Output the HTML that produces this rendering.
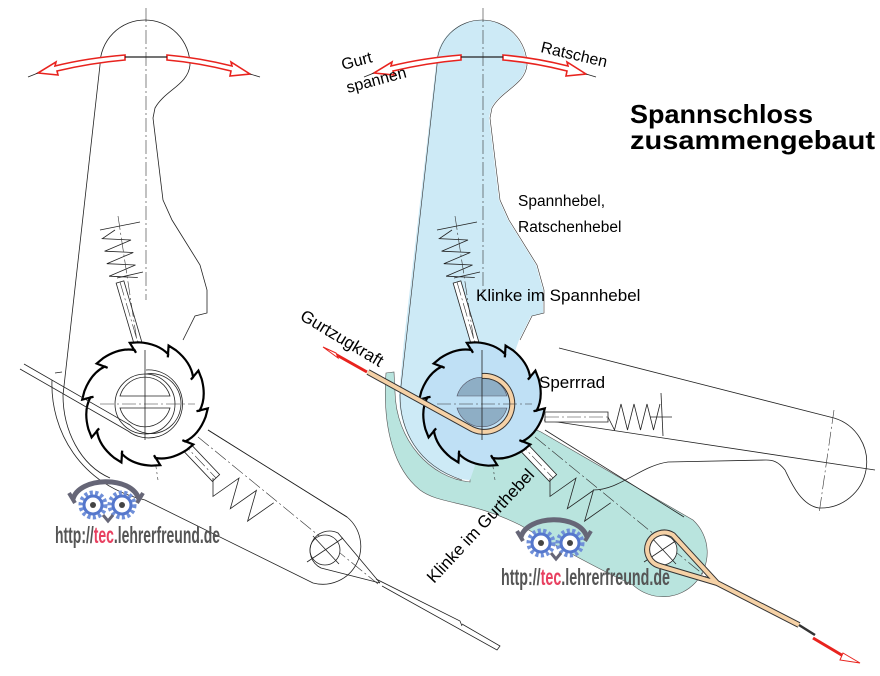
<!DOCTYPE html>
<html><head><meta charset="utf-8">
<style>
html,body{margin:0;padding:0;background:#fff;}
svg{display:block;}
text{font-family:"Liberation Sans",Arial,sans-serif;fill:#000;}
.t{stroke:#222;stroke-width:0.8;fill:none;}
.cl{stroke:#333;stroke-width:0.6;fill:none;stroke-dasharray:14 3 2 3;}
.wm{font-family:"Liberation Sans Narrow","Liberation Sans",sans-serif;font-weight:bold;fill:#555;}
</style></head>
<body>
<svg id="s" width="880" height="676" viewBox="0 0 880 676" xmlns="http://www.w3.org/2000/svg">
<defs>
<g id="gear"><circle r="12" fill="none" stroke="#6f8fd8" stroke-width="5" stroke-dasharray="3 2.3"/><circle r="9" fill="#fff" stroke="#5577cc" stroke-width="3"/><circle r="3" fill="#444"/></g>
<g id="owl">
<path d="M-20,-6 C-14,-28 38,-30 46,-6" fill="none" stroke="#667" stroke-width="5"/>
<path d="M-24,-12 L-18,-2 M50,-12 L44,-2" stroke="#667" stroke-width="4"/>
<use href="#gear" x="0" y="0"/><use href="#gear" x="29" y="0"/>
<path d="M10,10 L15,16 L20,10" fill="none" stroke="#667" stroke-width="3"/>
</g>
</defs>

<path d="M386,373 L394,372 L395,392 C396,440 430,478 470,482 L470,400 L541,432 L693,520 A38,38 0 0 1 633,585 C600,570 560,548 520,525 C470,500 440,505 420,490 C395,470 382,430 386,373 Z" fill="#b9e4de" stroke="#555" stroke-width="0.6"/>
<path d="M436,65 A45,45 0 1 1 526,65 C524,85 501,90 491,108 L489,118 L499,200 L508,220 L536,265 L543,290 L543,313 L531,316 L519,340 L505,380 L470,480 C430,478 399,440 399,395 L404,340 Z" fill="#cdeaf6"/>
<path d="M559,348 L834,418 A46,46 0 0 1 819,508 C800,505 790,480 785,470 C778,461 772,460 766,460 L668,462 C640,466 620,490 593,490" class="t"/>
<line x1="544" y1="420" x2="875" y2="470" class="t"/>
<line x1="834" y1="410" x2="819" y2="514" class="cl"/>

<g id="draw"></g>

<g fill="#fff" stroke="#e8231e" stroke-width="1.6">
<path d="M125,55 C100,57 75,61 55,66 L56,62 L38,73 L58,75 L57,71 C78,66 102,62 125,60 Z"/>
<path d="M167,55 C190,57 212,61 232,66 L231,62 L250,74 L230,76 L231,71 C211,66 190,62 167,60 Z"/>
<path d="M461,55 C436,57 411,61 391,66 L392,62 L374,73 L394,75 L393,71 C414,66 438,62 461,60 Z"/>
<path d="M503,55 C526,57 548,61 568,66 L567,62 L586,74 L566,76 L567,71 C547,66 526,62 503,60 Z"/>
</g>
<g class="t"><line x1="125" y1="57" x2="167" y2="57" stroke-width="1.2"/><line x1="461" y1="57" x2="503" y2="57" stroke-width="1.2"/>
<line x1="38" y1="73" x2="28" y2="77"/><line x1="250" y1="74" x2="260" y2="77"/><line x1="374" y1="73" x2="364" y2="77"/><line x1="586" y1="74" x2="596" y2="77"/></g>

<line x1="367" y1="372" x2="335" y2="354" stroke="#e8231e" stroke-width="3"/>
<path d="M336,353 L323,347 L338,358 Z" fill="#fff" stroke="#e8231e" stroke-width="1"/>
<line x1="813" y1="638" x2="845" y2="657" stroke="#e8231e" stroke-width="3"/>
<path d="M843,653 L860,663 L840,660 Z" fill="#fff" stroke="#e8231e" stroke-width="1"/>

<text x="630" y="123" font-size="26" font-weight="bold" textLength="183" lengthAdjust="spacingAndGlyphs">Spannschloss</text>
<text x="630" y="149" font-size="26" font-weight="bold" textLength="245" lengthAdjust="spacingAndGlyphs">zusammengebaut</text>
<text transform="translate(343,70) rotate(-15)" font-size="16">Gurt</text>
<text transform="translate(348,93) rotate(-15)" font-size="16">spannen</text>
<text transform="translate(540,52) rotate(13)" font-size="16">Ratschen</text>
<text x="518" y="206" font-size="15.5">Spannhebel,</text>
<text x="518" y="232" font-size="15.5">Ratschenhebel</text>
<text x="476" y="301" font-size="17">Klinke im Spannhebel</text>
<text transform="translate(299,319) rotate(31)" font-size="17">Gurtzugkraft</text>
<text x="539" y="388" font-size="17">Sperrrad</text>
<text transform="translate(434,584) rotate(-47)" font-size="17">Klinke im Gurthebel</text>

<use href="#owl" x="93" y="505"/>
<text class="wm" x="55" y="543" font-size="23" textLength="165" lengthAdjust="spacingAndGlyphs">http://<tspan fill="#e84060">tec</tspan>.lehrerfreund.de</text>
<use href="#owl" x="541" y="543"/>
<text class="wm" x="501" y="585" font-size="23" textLength="169" lengthAdjust="spacingAndGlyphs">http://<tspan fill="#e84060">tec</tspan>.lehrerfreund.de</text>
</svg>
<script>
(function(){
var NS="http://www.w3.org/2000/svg",root=document.getElementById("draw");
function el(n,a,p){var e=document.createElementNS(NS,n);for(var k in a)e.setAttribute(k,a[k]);(p||root).appendChild(e);return e;}
function zig(x1,y1,x2,y2,n,w){var dx=x2-x1,dy=y2-y1,L=Math.hypot(dx,dy),ux=dx/L,uy=dy/L,nx=-uy,ny=ux,d="M"+x1+","+y1;
 for(var i=1;i<=n*2;i++){var t=i/(n*2),s=(i%2?1:-1)*w;d+=" L"+(x1+dx*t+nx*s).toFixed(1)+","+(y1+dy*t+ny*s).toFixed(1);}return d;}
function P(cx,cy,r,deg){var a=deg*Math.PI/180;return (cx+r*Math.cos(a)).toFixed(1)+","+(cy+r*Math.sin(a)).toFixed(1);}
function ratchet(cx,cy,fill){var d="",N=10,ro=63,ri=52;
 for(var i=0;i<N;i++){var a=i*36+8;
  d+=(i?" L":"M")+P(cx,cy,ri,a)+" L"+P(cx,cy,ro,a-4)+" L"+P(cx,cy,ro-1,a+4)+" Q"+P(cx,cy,ro-1,a+22)+" "+P(cx,cy,ri+3,a+35);}
 el("path",{d:d+"Z",fill:fill,stroke:"#000","stroke-width":2.2,"stroke-linejoin":"miter"});}
function rails(x1,y1,x2,y2,w,fill){var dx=x2-x1,dy=y2-y1,L=Math.hypot(dx,dy),nx=-dy/L*w,ny=dx/L*w;
 el("path",{d:"M"+(x1+nx)+","+(y1+ny)+" L"+(x2+nx)+","+(y2+ny)+" L"+(x2-nx)+","+(y2-ny)+" L"+(x1-nx)+","+(y1-ny)+"Z",fill:fill,stroke:"#222","stroke-width":0.8});
 el("line",{x1:x1,y1:y1,x2:x2,y2:y2,"class":"cl"});}
function mech(o,col){
 var g=el("g",{transform:"translate("+o+",0)"});
 var cx=145,cy=404;
 el("line",{x1:146,y1:8,x2:146,y2:300,"class":"cl"},g);
 if(!col){
  el("path",{d:"M100,65 A45,45 0 1 1 190,65 C188,85 165,90 155,108 L153,118 L163,200 L172,220 L200,265 L207,290 L207,313 L195,316 L183,340",fill:"none",stroke:"#222","stroke-width":0.8},g);
  el("path",{d:"M100,65 L63,395 C63,430 80,465 110,478",fill:"none",stroke:"#222","stroke-width":0.8},g);
  el("path",{d:"M55,373 L62,372 M52,380 C50,430 80,485 145,500 L313,583 A38,38 0 0 0 347,517 L208,430",fill:"none",stroke:"#222","stroke-width":0.8},g);
 } else {
  el("path",{d:"M100,65 A45,45 0 1 1 190,65 C188,85 165,90 155,108 L153,118 L163,200 L172,220 L200,265 L207,290 L207,313 L195,316 L183,340 M100,65 L63,395 C63,430 80,465 125,480",fill:"none",stroke:"#333","stroke-width":0.6},g);
 }
 root=g;
 rails(120,282,140,350,4,"#fff");
 el("path",{d:zig(115,230,124,280,4,14),fill:"none",stroke:"#222","stroke-width":0.8});
 el("line",{x1:100,y1:230,x2:140,y2:222,"class":"t"});el("line",{x1:117,y1:278,x2:143,y2:272,"class":"t"});
 el("line",{x1:118,y1:216,x2:158,y2:480,"class":"cl"});
 rails(180,440,216,478,5,"#fff");
 el("path",{d:zig(213,478,265,515,3,15),fill:"none",stroke:"#222","stroke-width":0.8});
 el("line",{x1:198,y1:437,x2:378,y2:584,"class":"cl"});
 el("line",{x1:208,y1:430,x2:347,y2:517,"class":"t"});
 ratchet(cx,cy,col?"#bfe0f5":"#fff");
 if(col){
  el("path",{d:"M120,396 A26,26 0 0 1 170,396 Z M120,408 A26,26 0 0 0 170,408 Z",fill:"#8eaec5",stroke:"#556","stroke-width":0.6});
  el("path",{d:"M31,372 L133,428 A28,28 0 1 0 145,376",fill:"none",stroke:"#333","stroke-width":6});
  el("path",{d:"M31,372 L133,428 A28,28 0 1 0 145,376",fill:"none",stroke:"#f5d1a6","stroke-width":4});
 } else {
  el("circle",{cx:cx,cy:cy,r:30,fill:"none",stroke:"#222","stroke-width":0.8});
  el("path",{d:"M120,396 A26,26 0 0 1 170,396 Z M120,408 A26,26 0 0 0 170,408 Z",fill:"none",stroke:"#222","stroke-width":0.8});
  el("path",{d:"M24,364 L130,425 A30,30 0 1 0 146,374 M20,369 L128,431 A34,34 0 1 0 146,370",fill:"none",stroke:"#222","stroke-width":0.8});
 }
 el("line",{x1:100,y1:404,x2:195,y2:404,"class":"cl"});
 el("line",{x1:145,y1:350,x2:145,y2:440,"class":"t"});
 var ex=325,ey=550;
 el("circle",{cx:ex,cy:ey,r:15,fill:"#fff",stroke:"#222","stroke-width":0.8});
 el("line",{x1:ex-18,y1:ey+12,x2:ex+18,y2:ey-12,"class":"t"});el("line",{x1:ex-12,y1:ey-14,x2:ex+14,y2:ey+14,"class":"t"});
 var bp="M380,583 L323,566 A17,17 0 1 1 336,535 L380,583 L462,625";
 if(col){
  el("path",{d:bp,fill:"none",stroke:"#333","stroke-width":6,"stroke-linejoin":"round"});
  el("path",{d:bp,fill:"none",stroke:"#f5d1a6","stroke-width":4,"stroke-linejoin":"round"});
  el("line",{x1:462,y1:625,x2:478,y2:635,stroke:"#333","stroke-width":2.5});
 } else {
  el("path",{d:"M380,583 L321,568 A19,19 0 1 1 338,533 L380,583",fill:"none",stroke:"#222","stroke-width":0.8});
  el("path",{d:"M376,579 L460,621 L462,626 M382,586 L497,650 L500,646 L462,624",fill:"none",stroke:"#222","stroke-width":0.8});
 }
 root=document.getElementById("draw");
}
mech(0,false);
mech(337,true);
var g2=el("g",{});root=g2;
rails(545,417,608,417,5,"#fff");
el("path",{d:zig(608,417,660,417,4,13),fill:"none",stroke:"#222","stroke-width":0.8});
el("line",{x1:661,y1:393,x2:663,y2:436,"class":"t"});
el("line",{x1:650,y1:417,x2:672,y2:417,"class":"t"});
})();
</script>
</body></html>
